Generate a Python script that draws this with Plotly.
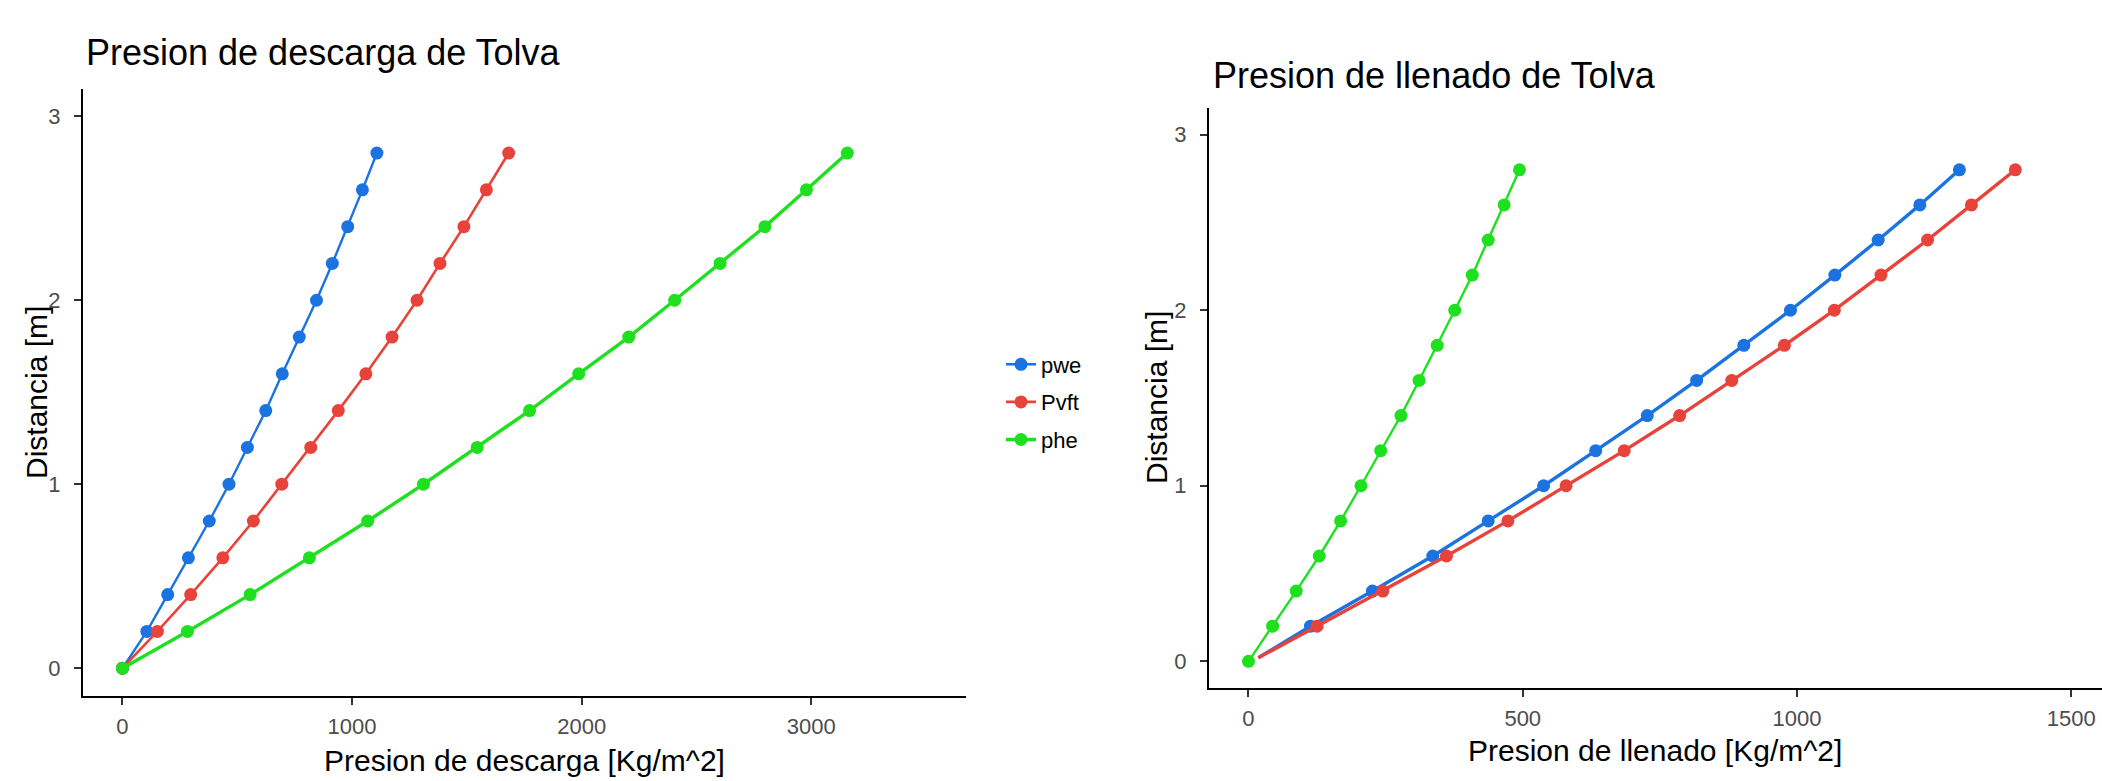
import plotly.graph_objects as go

# ---- data ----
dist = [0.0, 0.2, 0.4, 0.6, 0.8, 1.0, 1.2, 1.4, 1.6, 1.8, 2.0, 2.2, 2.4, 2.6, 2.8]
series_names = ["pwe", "Pvft", "phe"]

# Presion de descarga (left chart)
pwe_desc = [0, 106, 197, 287, 378, 464, 544, 624, 696, 770, 845, 914, 981, 1045, 1108]
pvft_desc = [0, 152, 297, 437, 570, 694, 820, 940, 1060, 1174, 1283, 1383, 1487, 1585, 1682]
phe_desc = [0, 283, 556, 814, 1068, 1311, 1545, 1773, 1987, 2205, 2405, 2603, 2798, 2979, 3157]

# Presion de llenado (right chart); pwe / Pvft lines begin slightly off the origin
llen_start_dist = 0.02
pwe_llen_start = 18
pvft_llen_start = 18
pwe_llen = [113, 226, 336, 437, 538, 633, 727, 817, 903, 988, 1069, 1148, 1224, 1296]
pvft_llen = [125, 245, 361, 473, 579, 685, 786, 881, 977, 1068, 1153, 1238, 1318, 1398]
phe_llen = [0, 44, 87, 129, 168, 205, 241, 278, 311, 344, 376, 408, 437, 466, 494]

x_ticks_desc = [0, 1000, 2000, 3000]
x_ticks_llen = [0, 500, 1000, 1500]
y_ticks = [0, 1, 2, 3]

colors = {"pwe": "#1a73e0", "Pvft": "#e8433a", "phe": "#1fe01f"}

FONT = "Liberation Sans, Arial, sans-serif"
W, H = 2102, 781
MS = 13

fig = go.Figure()

# left chart traces
left = {"pwe": (pwe_desc, 2.4), "Pvft": (pvft_desc, 2.6), "phe": (phe_desc, 3.4)}
for name in series_names:
    xs, lw = left[name]
    fig.add_trace(go.Scatter(
        x=xs, y=dist, mode="lines+markers", name=name, legendgroup=name,
        line=dict(color=colors[name], width=lw),
        marker=dict(color=colors[name], size=MS),
        xaxis="x", yaxis="y", showlegend=True))

# right chart traces
right_lines = {
    "pwe": ([pwe_llen_start] + pwe_llen, [llen_start_dist] + dist[1:], pwe_llen, dist[1:], 3.4),
    "Pvft": ([pvft_llen_start] + pvft_llen, [llen_start_dist] + dist[1:], pvft_llen, dist[1:], 3.4),
    "phe": (phe_llen, dist, phe_llen, dist, 2.4),
}
for name in series_names:
    lx, ly, mx, my, lw = right_lines[name]
    fig.add_trace(go.Scatter(
        x=lx, y=ly, mode="lines", legendgroup=name, showlegend=False,
        line=dict(color=colors[name], width=lw), xaxis="x2", yaxis="y2"))
    fig.add_trace(go.Scatter(
        x=mx, y=my, mode="markers", legendgroup=name, showlegend=False,
        marker=dict(color=colors[name], size=MS), xaxis="x2", yaxis="y2"))

axis_common = dict(
    showline=True, linecolor="black", linewidth=2, ticks="outside", ticklen=7,
    tickwidth=1.5, tickcolor="#333333", showgrid=False, zeroline=False,
    tickfont=dict(family=FONT, size=22, color="#4d4d4d"),
)
xa = dict(axis_common, ticklabelstandoff=3)
ya = dict(axis_common, ticklabelstandoff=9)

fig.update_layout(
    width=W, height=H, margin=dict(l=0, r=0, t=0, b=0),
    paper_bgcolor="white", plot_bgcolor="white",
    font=dict(family=FONT),
    xaxis=dict(domain=[83 / W, 966 / W], range=[-172, 3674], tickvals=x_ticks_desc,
               anchor="y", **xa),
    yaxis=dict(domain=[1 - 696 / H, 1 - 89 / H], range=[-0.151, 3.148], tickvals=y_ticks,
               anchor="x", **ya),
    xaxis2=dict(domain=[1209 / W, 1.0], range=[-72, 1556], tickvals=x_ticks_llen,
                anchor="y2", **xa),
    yaxis2=dict(domain=[1 - 688 / H, 1 - 108 / H], range=[-0.152, 3.152], tickvals=y_ticks,
                anchor="x2", **ya),
    legend=dict(x=1001 / W, y=1 - 402 / H, xanchor="left", yanchor="middle",
                font=dict(family=FONT, size=22, color="black"), tracegroupgap=6,
                bgcolor="rgba(0,0,0,0)", itemwidth=30),
    showlegend=True,
)

ann = [
    dict(text="Presion de descarga de Tolva", x=84 / W, y=1 - 52 / H, xanchor="left",
         yanchor="middle", font=dict(size=36, color="black")),
    dict(text="Presion de llenado de Tolva", x=1211 / W, y=1 - 75 / H, xanchor="left",
         yanchor="middle", font=dict(size=36, color="black")),
    dict(text="Presion de descarga [Kg/m^2]", x=524 / W, y=1 - 760 / H, xanchor="center",
         yanchor="middle", font=dict(size=30, color="black")),
    dict(text="Presion de llenado [Kg/m^2]", x=1655 / W, y=1 - 750 / H, xanchor="center",
         yanchor="middle", font=dict(size=30, color="black")),
    dict(text="Distancia [m]", x=36 / W, y=1 - 393 / H, xanchor="center", yanchor="middle",
         textangle=-90, font=dict(size=30, color="black")),
    dict(text="Distancia [m]", x=1156 / W, y=1 - 398 / H, xanchor="center", yanchor="middle",
         textangle=-90, font=dict(size=30, color="black")),
]
for a in ann:
    a.update(xref="paper", yref="paper", showarrow=False)
fig.update_layout(annotations=ann)

fig.write_html("out.html", config={"displayModeBar": False},
               post_script="document.body.style.margin='0';")
